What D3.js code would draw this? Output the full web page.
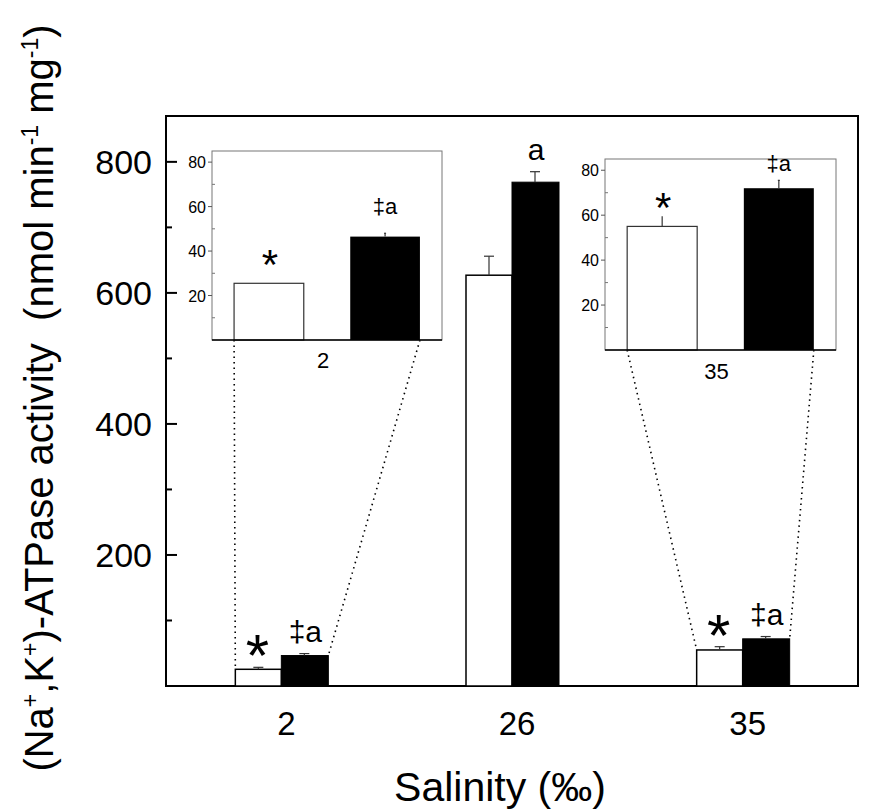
<!DOCTYPE html>
<html>
<head>
<meta charset="utf-8">
<script src="https://cdn.jsdelivr.net/npm/d3@7"></script>
<style>
  body { margin: 0; background: #fff; }
  svg { display: block; font-family: "Liberation Sans", Arial, sans-serif; }
  text { white-space: pre; }
</style>
</head>
<body>
<svg width="889" height="810"></svg>
<script>
// Data.
var salinity = ["2", "26", "35"];
var whiteValues = [25.5, 627, 55];
var whiteErrors = [3, 29, 5];
var blackValues = [46.5, 769, 72];
var blackErrors = [3, 16, 3.5];
var whiteMarks = ["*", "", "*"];
var blackMarks = ["\u2021a", "a", "\u2021a"];

var mainTicks = [200, 400, 600, 800];
var mainMinor = [100, 300, 500, 700];
var insetTicks = [20, 40, 60, 80];
var insetMinor = [10, 30, 50, 70];

// Insets zoom on the 2 and 35 groups.
var insetGroups = ["2", "35"];
var insetWhiteErrors = [0, 4.5];
var insetBlackErrors = [1.5, 3.5];

var svg = d3.select("svg");

// (window.top is read-only, so keep the frame edges in their own names)
var plotLeft = 166, plotRight = 858, plotTop = 116, plotBottom = 686;
var barWidth = 46;

var x = d3.scalePoint().domain(salinity).range([plotLeft, plotRight]).padding(0.5);
var y = d3.scaleLinear().domain([0, 870]).range([plotBottom, plotTop]);

// Main frame.
svg.append("rect")
  .attr("x", plotLeft).attr("y", plotTop)
  .attr("width", plotRight - plotLeft).attr("height", plotBottom - plotTop)
  .attr("fill", "none").attr("stroke", "#000").attr("stroke-width", 2);

// Y axis ticks point inwards.
var yAxis = svg.append("g");
yAxis.selectAll(".major").data(mainTicks).enter().append("line")
  .attr("x1", plotLeft).attr("x2", plotLeft + 11)
  .attr("y1", function(d) { return y(d); }).attr("y2", function(d) { return y(d); })
  .attr("stroke", "#000").attr("stroke-width", 2);
yAxis.selectAll(".minor").data(mainMinor).enter().append("line")
  .attr("x1", plotLeft).attr("x2", plotLeft + 6)
  .attr("y1", function(d) { return y(d); }).attr("y2", function(d) { return y(d); })
  .attr("stroke", "#000").attr("stroke-width", 2);
yAxis.selectAll("text").data(mainTicks).enter().append("text")
  .attr("x", plotLeft - 14).attr("y", function(d) { return y(d) + 12; })
  .attr("text-anchor", "end").attr("font-size", 34)
  .text(function(d) { return d; });

svg.append("g").selectAll("text").data(salinity).enter().append("text")
  .attr("x", function(d) { return x(d) + 5; }).attr("y", plotBottom + 49)
  .attr("text-anchor", "middle").attr("font-size", 33)
  .text(function(d) { return d; });

// Axis titles.
svg.append("text")
  .attr("x", 500).attr("y", 801)
  .attr("text-anchor", "middle").attr("font-size", 41)
  .text("Salinity (\u2030)");

var yTitle = svg.append("text")
  .attr("transform", "translate(53,398) rotate(-90)")
  .attr("text-anchor", "middle").attr("font-size", 40);
var titleParts = [["(Na", 0], ["+", 1], [",K", 0], ["+", 1], [")-ATPase activity  (nmol min", 0],
  ["-1", 1], [" mg", 0], ["-1", 1], [")", 0]];
var raised = false;
for (let part of titleParts) {
  let t = yTitle.append("tspan").text(part[0]);
  if (part[1]) {
    t.attr("font-size", 23).attr("dy", "-15");
    raised = true;
  } else if (raised) {
    t.attr("dy", "15");
    raised = false;
  }
}

// Main bars.
var bars = svg.append("g");
bars.selectAll(".white").data(salinity).enter().append("rect")
  .attr("x", function(d) { return x(d) - barWidth; })
  .attr("y", function(d, i) { return y(whiteValues[i]); })
  .attr("width", barWidth)
  .attr("height", function(d, i) { return plotBottom - y(whiteValues[i]); })
  .attr("fill", "#fff").attr("stroke", "#000").attr("stroke-width", 1.5);
bars.selectAll(".black").data(salinity).enter().append("rect")
  .attr("x", function(d) { return x(d); })
  .attr("y", function(d, i) { return y(blackValues[i]); })
  .attr("width", barWidth + 1)
  .attr("height", function(d, i) { return plotBottom - y(blackValues[i]); })
  .attr("fill", "#000").attr("stroke", "#000").attr("stroke-width", 1);

function errorBar(g, cx, yTop, yBase, cap) {
  g.append("line").attr("x1", cx).attr("x2", cx).attr("y1", yBase).attr("y2", yTop)
    .attr("stroke", "#333").attr("stroke-width", 1.2);
  g.append("line").attr("x1", cx - cap).attr("x2", cx + cap).attr("y1", yTop).attr("y2", yTop)
    .attr("stroke", "#333").attr("stroke-width", 1.2);
}

var errs = svg.append("g");
salinity.forEach(function(d, i) {
  errorBar(errs, x(d) - barWidth / 2, y(whiteValues[i] + whiteErrors[i]), y(whiteValues[i]), 5);
  errorBar(errs, x(d) + barWidth / 2, y(blackValues[i] + blackErrors[i]), y(blackValues[i]), 5);
});

// Significance marks.
var marks = svg.append("g");
salinity.forEach(function(d, i) {
  marks.append("text")
    .attr("x", x(d) - barWidth / 2 - 1).attr("y", y(whiteValues[i] + whiteErrors[i]) + 9)
    .attr("text-anchor", "middle").attr("font-size", 60)
    .text(whiteMarks[i]);
  marks.append("text")
    .attr("x", x(d) + barWidth / 2 + 1).attr("y", y(blackValues[i] + blackErrors[i]) - 12)
    .attr("text-anchor", "middle").attr("font-size", 30)
    .text(blackMarks[i]);
});

// Insets.
var insetBoxes = [
  { x0: 212, x1: 442, y0: 151, y1: 340, label: 368, gap: 15 },
  { x0: 605, x1: 836, y0: 159, y1: 350, label: 379, gap: 5 }
];

insetGroups.forEach(function(cat, k) {
  var box = insetBoxes[k];
  var i = salinity.indexOf(cat);
  var g = svg.append("g");
  var ix = d3.scaleBand().domain(["white", "black"]).range([box.x0, box.x1])
    .paddingInner(0.4).paddingOuter(0.19);
  var iy = d3.scaleLinear().domain([0, 85]).range([box.y1, box.y0]);
  var bw = ix.bandwidth();

  // Zoom guides from the inset down to the bars.
  g.append("line")
    .attr("x1", ix("white")).attr("y1", box.y1)
    .attr("x2", x(cat) - barWidth).attr("y2", y(whiteValues[i]))
    .attr("stroke", "#000").attr("stroke-width", 1.6).attr("stroke-dasharray", "1.5,4");
  g.append("line")
    .attr("x1", ix("black") + bw).attr("y1", box.y1)
    .attr("x2", x(cat) + barWidth + 1).attr("y2", y(blackValues[i]))
    .attr("stroke", "#000").attr("stroke-width", 1.6).attr("stroke-dasharray", "1.5,4");

  g.append("rect")
    .attr("x", box.x0).attr("y", box.y0)
    .attr("width", box.x1 - box.x0).attr("height", box.y1 - box.y0)
    .attr("fill", "#fff").attr("stroke", "#777").attr("stroke-width", 1);

  g.selectAll(".major").data(insetTicks).enter().append("line")
    .attr("x1", box.x0 - 4).attr("x2", box.x0)
    .attr("y1", function(d) { return iy(d); }).attr("y2", function(d) { return iy(d); })
    .attr("stroke", "#555");
  g.selectAll(".minor").data(insetMinor).enter().append("line")
    .attr("x1", box.x0).attr("x2", box.x0 + 3)
    .attr("y1", function(d) { return iy(d); }).attr("y2", function(d) { return iy(d); })
    .attr("stroke", "#777");
  g.selectAll(".tick").data(insetTicks).enter().append("text")
    .attr("x", box.x0 - 6).attr("y", function(d) { return iy(d) + 6; })
    .attr("text-anchor", "end").attr("font-size", 16)
    .text(function(d) { return d; });

  g.append("rect")
    .attr("x", ix("white")).attr("y", iy(whiteValues[i]))
    .attr("width", bw).attr("height", box.y1 - iy(whiteValues[i]))
    .attr("fill", "#fff").attr("stroke", "#333").attr("stroke-width", 1.2);
  g.append("rect")
    .attr("x", ix("black")).attr("y", iy(blackValues[i]))
    .attr("width", bw).attr("height", box.y1 - iy(blackValues[i]))
    .attr("fill", "#000");

  g.append("line").attr("x1", box.x0).attr("x2", box.x1).attr("y1", box.y1).attr("y2", box.y1)
    .attr("stroke", "#000").attr("stroke-width", 1.5);

  if (insetWhiteErrors[k] > 0)
    errorBar(g, ix("white") + bw / 2, iy(whiteValues[i] + insetWhiteErrors[k]), iy(whiteValues[i]), 0);
  if (insetBlackErrors[k] > 0)
    errorBar(g, ix("black") + bw / 2, iy(blackValues[i] + insetBlackErrors[k]), iy(blackValues[i]), 1);

  g.append("text")
    .attr("x", ix("white") + bw / 2 + 1)
    .attr("y", iy(whiteValues[i] + insetWhiteErrors[k]) - box.gap + 11)
    .attr("text-anchor", "middle").attr("font-size", 42)
    .text(whiteMarks[i]);
  g.append("text")
    .attr("x", ix("black") + bw / 2)
    .attr("y", iy(blackValues[i] + insetBlackErrors[k]) - box.gap - 4)
    .attr("text-anchor", "middle").attr("font-size", 22)
    .text(blackMarks[i]);

  g.append("text")
    .attr("x", (ix("white") + ix("black") + bw) / 2 - 4).attr("y", box.label)
    .attr("text-anchor", "middle").attr("font-size", 22)
    .text(cat);
});
</script>
</body>
</html>
